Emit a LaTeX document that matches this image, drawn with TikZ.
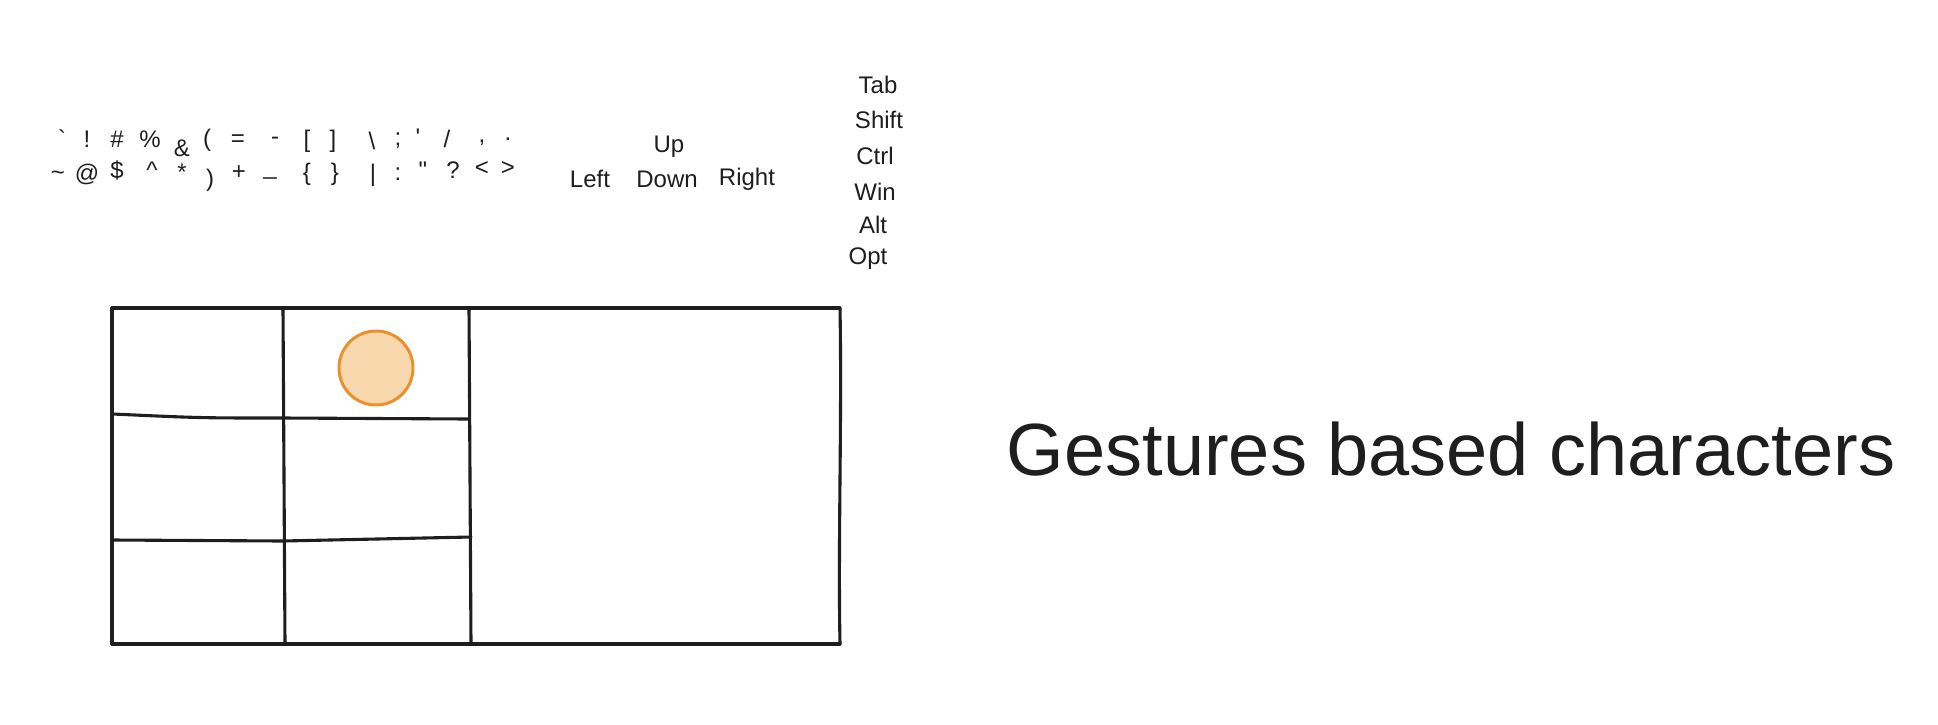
\documentclass[tikz,border=0pt]{standalone}
\usepackage{fontspec}
\setmainfont{Liberation Sans}
\newfontfamily\plainsans{Liberation Sans}
\definecolor{ink}{HTML}{1E1E1E}
\definecolor{orangeline}{HTML}{E8912D}
\definecolor{orangefill}{HTML}{F8D8AC}
\begin{document}
\begin{tikzpicture}[x=1pt,y=-1pt,
  txt/.style={text=ink, font=\plainsans\fontsize{24}{28}\selectfont, inner sep=0pt},
  titletxt/.style={text=ink, font=\fontsize{74}{80}\selectfont, inner sep=0pt},
  gridline/.style={draw=ink, line width=3.1pt, line cap=round, line join=round},
  ball/.style={draw=orangeline, fill=orangefill, line width=3pt}]
\useasboundingbox (0,0) rectangle (1938,724);
% symbols, first row
\node[txt] (s1) at (62,139) {\symbol{96}};
\node[txt] (s2) at (87,139) {!};
\node[txt] (s3) at (117,139) {\#};
\node[txt] (s4) at (150,139) {\%};
\node[txt] (s5) at (182,148) {\&};
\node[txt] (s6) at (207,140) {(};
\node[txt] (s7) at (238,141) {=};
\node[txt] (s8) at (275,141) {-};
\node[txt] (s9) at (307,141) {[};
\node[txt] (s10) at (333,141) {]};
\node[txt] (s11) at (372,141) {\symbol{92}};
\node[txt] (s12) at (398,141) {;};
\node[txt] (s13) at (418,137) {\symbol{39}};
\node[txt] (s14) at (447,139) {/};
\node[txt] (s15) at (482,143) {,};
\node[txt] (s16) at (508,139) {.};
% symbols, second row
\node[txt] (t1) at (58,176) {\symbol{126}};
\node[txt] (t2) at (87,174) {@};
\node[txt] (t3) at (117,170) {\$};
\node[txt] (t4) at (152,170) {\symbol{94}};
\node[txt] (t5) at (182,172) {*};
\node[txt] (t6) at (210,180) {)};
\node[txt] (t7) at (239,173) {+};
\node[txt] (t8) at (270,177) {\symbol{95}};
\node[txt] (t9) at (307,174) {\{};
\node[txt] (t10) at (335,174) {\}};
\node[txt] (t11) at (373,175) {|};
\node[txt] (t12) at (398,174) {:};
\node[txt] (t13) at (423,170) {\symbol{34}};
\node[txt] (t14) at (453,170) {?};
\node[txt] (t15) at (482,168) {<};
\node[txt] (t16) at (508,168) {>};
% arrows
\node[txt] (up) at (669,147) {Up};
\node[txt] (left) at (590,179) {Left};
\node[txt] (down) at (667,179) {Down};
\node[txt] (right) at (747,179) {Right};
% modifiers
\node[txt] (tab) at (878,85) {Tab};
\node[txt] (shift) at (879,120) {Shift};
\node[txt] (ctrl) at (875,156) {Ctrl};
\node[txt] (win) at (875,192) {Win};
\node[txt] (alt) at (873,225) {Alt};
\node[txt] (opt) at (868,259) {Opt};
% grid
\coordinate (tl) at (112,308);
\coordinate (tr) at (840,308);
\coordinate (bl) at (112,644);
\coordinate (br) at (840,644);
\draw[gridline] (tl) -- (tr);
\draw[gridline] (tl) -- (bl);
\draw[gridline] (bl) -- (br);
\draw[gridline] (tr) .. controls (842,420) and (838,540) .. (br);
\draw[gridline] (283,308) -- (285,644);
\draw[gridline] (469,308) -- (471,644);
\draw[gridline] (113,414) .. controls (200,418) .. (283,418) -- (469,419);
\draw[gridline] (113,540) -- (283,541) -- (471,537);
\node[ball, circle, minimum size=74pt, inner sep=0pt] (dot) at (376,368) {};
% title
\node[titletxt] (title) at (1451,449) {Gestures based characters};
\end{tikzpicture}
\end{document}
